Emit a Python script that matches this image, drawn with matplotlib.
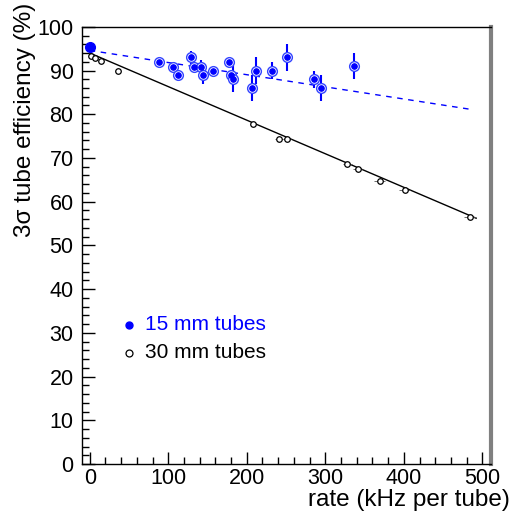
import matplotlib
matplotlib.use("Agg")
import matplotlib.pyplot as plt
from matplotlib.ticker import MultipleLocator
import numpy as np

plt.rcParams['font.family'] = ['Liberation Sans', 'DejaVu Sans']

# 15 mm tubes
rate15 = [88, 106, 112, 129, 133, 141.6, 143.8, 156.5, 177, 180, 182, 206, 212, 232, 251, 285, 295, 337]
eff15 = [91.9, 90.9, 89.0, 93.0, 90.9, 90.9, 89.0, 90.0, 91.9, 89.0, 88.0, 86.0, 90.0, 90.0, 93.0, 88.0, 86.0, 91.0]
err15 = [0.4, 0.3, 0.3, 1.5, 0.3, 1.5, 2.0, 0.3, 0.3, 1.0, 3.0, 3.0, 3.0, 2.0, 3.0, 2.0, 3.0, 3.0]
rate15_0 = [0.0]
eff15_0 = [95.4]
fit15 = (94.6, -0.0278)   # intercept, slope
fit15_range = (0, 487)

# 30 mm tubes
rate30 = [2, 6.4, 14.4, 36, 208, 241, 251, 328, 341, 369, 401, 484]
eff30 = [93.4, 92.8, 92.1, 89.9, 77.7, 74.4, 74.4, 68.6, 67.5, 64.8, 62.7, 56.6]
xerr30 = [1, 1, 1, 1, 3, 5, 5, 6, 6, 7, 7, 8]
fit30 = (94.0, -0.0768)
fit30_range = (0, 492)

fig = plt.figure(figsize=(5.18, 5.15), dpi=100)
ax = fig.add_axes([0.158, 0.099, 0.790, 0.849])

blue = '#0000ff'

# fits
xf = np.array(fit15_range)
ax.plot(xf, fit15[0] + fit15[1] * xf, color=blue, lw=1.0, ls=(0, (4, 4)), zorder=1)
xf = np.array(fit30_range)
ax.plot(xf, fit30[0] + fit30[1] * xf, color='black', lw=1.0, zorder=1)

# 30 mm
ax.errorbar(rate30, eff30, xerr=xerr30, fmt='none', ecolor='#555555', elinewidth=0.6, zorder=2)
ax.plot(rate30, eff30, 'o', mfc='white', mec='black', ms=4, mew=0.9, zorder=3)

# 15 mm
ax.errorbar(rate15, eff15, yerr=err15, fmt='none', ecolor=blue, elinewidth=1.5, zorder=4)
ax.plot(rate15, eff15, 'o', mfc='white', mec='#3344ff', ms=7, mew=1.0, zorder=5)
ax.plot(rate15, eff15, 'o', color=blue, ms=3.8, zorder=6)
ax.plot(rate15_0, eff15_0, 'o', color=blue, ms=7, zorder=6)

ax.set_xlim(-10, 511)
ax.set_ylim(0, 100)
ax.xaxis.set_major_locator(MultipleLocator(100))
ax.xaxis.set_minor_locator(MultipleLocator(20))
ax.yaxis.set_major_locator(MultipleLocator(10))
ax.yaxis.set_minor_locator(MultipleLocator(2))
ax.tick_params(which='both', direction='in', top=False, right=False, labelsize=15.5)
ax.tick_params(which='major', length=9, width=1)
ax.tick_params(which='minor', length=5, width=1)
ax.tick_params(axis='x', pad=3)
ax.tick_params(axis='y', pad=6)

for s in ['left', 'bottom', 'top']:
    ax.spines[s].set_linewidth(1.0)
ax.spines['right'].set_color('#808080')
ax.spines['right'].set_linewidth(3)

ax.set_xlabel('rate (kHz per tube)', fontsize=17.5, ha='right', va='top')
ax.xaxis.set_label_coords(1.046, -0.057)
ax.set_ylabel('3σ tube efficiency (%)', fontsize=17.5, ha='right', va='center')
ax.yaxis.set_label_coords(-0.139, 1.055)

# legend-like labels
ax.plot([49.6], [31.8], 'o', color=blue, ms=5)
ax.text(70, 31.8, '15 mm tubes', color=blue, fontsize=15, va='center')
ax.plot([49.6], [25.4], 'o', mfc='white', mec='black', ms=5, mew=0.9)
ax.text(70, 25.4, '30 mm tubes', color='black', fontsize=15, va='center')

fig.savefig('out.png', dpi=100)
